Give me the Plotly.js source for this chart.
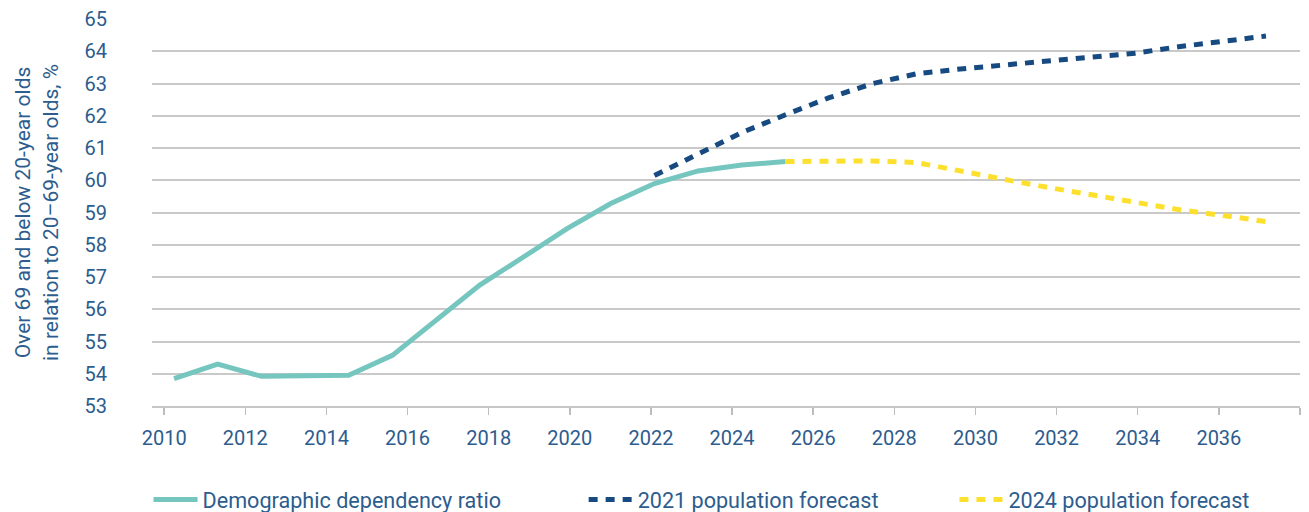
<!DOCTYPE html>
<html><head><meta charset="utf-8">
<script src="https://cdn.plot.ly/plotly-3.0.1.min.js"></script>
<style>html,body{margin:0;padding:0;background:#fff}#chart{width:1309px;height:512px}</style>
</head><body><div id="chart"></div>
<script>
// Data
const ratioYears = [2010,2011,2012,2013,2014,2015,2016,2017,2018,2019,2020,2021,2022,2023,2024];
const dependencyRatio = [53.85,54.3,53.92,53.92,53.95,54.57,55.65,56.75,57.62,58.5,59.28,59.9,60.29,60.47,60.58];
const forecast2021Years = [2021,2022,2023,2024,2025,2026,2027,2028,2029,2030,2031,2032,2033,2034,2035];
const forecast2021 = [60.15,60.83,61.48,62.03,62.56,63.0,63.3,63.45,63.57,63.68,63.81,63.94,64.14,64.3,64.47];
const forecast2024Years = [2024,2025,2026,2027,2028,2029,2030,2031,2032,2033,2034,2035];
const forecast2024 = [60.58,60.58,60.6,60.55,60.28,60.03,59.78,59.54,59.3,59.09,58.91,58.72];
const tickYears = [2010,2012,2014,2016,2018,2020,2022,2024,2026,2028,2030,2032,2034,2036,2038];
const tickLabels = ['2010','2012','2014','2016','2018','2020','2022','2024','2026','2028','2030','2032','2034','2036',''];
const seriesNames = ['Demographic dependency ratio','2021 population forecast','2024 population forecast'];

const textColor = '#2d5c8e';
const fam = 'Roboto, "Open Sans", sans-serif';
const tickFont = {family: fam, size: 20, color: textColor};
const legendFont = {family: fam, size: 21.6, color: textColor};

const traces = [
  {x: ratioYears, y: dependencyRatio, name: seriesNames[0], type: 'scatter', mode: 'lines',
   line: {color: '#76c6c0', width: 5}, legend: 'legend', xaxis: 'x', yaxis: 'y'},
  {x: forecast2021Years, y: forecast2021, name: seriesNames[1], type: 'scatter', mode: 'lines',
   line: {color: '#174a80', width: 5, dash: '9px,8px'}, legend: 'legend2', xaxis: 'x', yaxis: 'y'},
  {x: forecast2024Years, y: forecast2024, name: seriesNames[2], type: 'scatter', mode: 'lines',
   line: {color: '#fde02e', width: 5, dash: '9px,8px'}, legend: 'legend3', xaxis: 'x', yaxis: 'y'},
  // empty trace so the labelled year axis is drawn
  {x: [], y: [], type: 'scatter', mode: 'lines', xaxis: 'x2', yaxis: 'y', showlegend: false, hoverinfo: 'skip'}
];

const legendBase = {orientation: 'h', y: -0.243, yanchor: 'middle', xanchor: 'left',
  font: legendFont, bgcolor: 'rgba(0,0,0,0)', itemwidth: 44};

const layout = {
  width: 1309, height: 512,
  margin: {l: 152, r: 9, t: 19, b: 106, autoexpand: false},
  paper_bgcolor: '#ffffff', plot_bgcolor: '#ffffff',
  font: tickFont,
  showlegend: true,
  xaxis: {range: [2009.496, 2035.78], visible: false, fixedrange: true},
  xaxis2: {overlaying: 'x', anchor: 'y', side: 'bottom', range: [2009.70, 2038],
    tickmode: 'array', tickvals: tickYears, ticktext: tickLabels,
    ticks: 'outside', ticklen: 7, tickwidth: 1.5, tickcolor: '#bdbdbd', ticklabelstandoff: 6,
    showline: true, linecolor: '#c6c6c6', linewidth: 2, showgrid: false, zeroline: false,
    tickfont: tickFont},
  yaxis: {range: [53, 65], tick0: 53, dtick: 1, showgrid: true, gridcolor: '#c9c9c9', gridwidth: 2,
    zeroline: false, showline: false, ticks: '', ticklabelstandoff: 44, tickfont: tickFont,
    title: {text: 'Over 69 and below 20-year olds<br>in relation to 20\u201369-year olds, %',
      font: {family: fam, size: 21, color: textColor}, standoff: 20}},
  legend: Object.assign({}, legendBase, {x: -0.003}),
  legend2: Object.assign({}, legendBase, {x: 0.376}),
  legend3: Object.assign({}, legendBase, {x: 0.699})
};

Plotly.newPlot('chart', traces, layout, {displayModeBar: false, staticPlot: true});
</script>
</body></html>
